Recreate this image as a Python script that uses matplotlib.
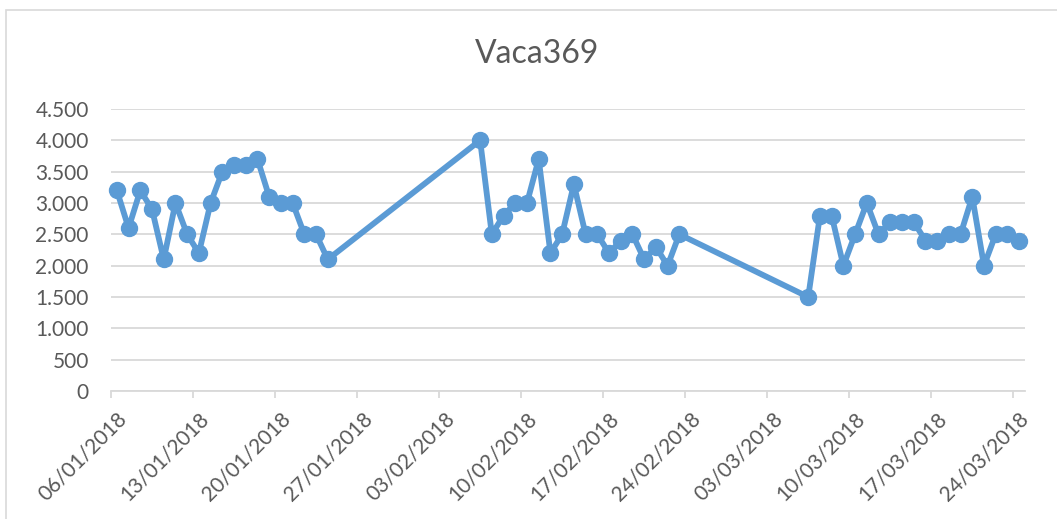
import datetime as dt
import matplotlib
matplotlib.use("Agg")
import matplotlib.pyplot as plt
import matplotlib.dates as mdates
import matplotlib.transforms as mtransforms
from matplotlib.ticker import FuncFormatter, MultipleLocator
from matplotlib.patches import Rectangle

# daily readings, three runs of consecutive days
start1 = "2018-01-06"
vals1 = [3200, 2600, 3200, 2900, 2100, 3000, 2500, 2200, 3000, 3500,
         3600, 3600, 3700, 3100, 3000, 3000, 2500, 2500, 2100]
start2 = "2018-02-06"
vals2 = [4000, 2500, 2800, 3000, 3000, 3700, 2200, 2500, 3300, 2500,
         2500, 2200, 2400, 2500, 2100, 2300, 2000, 2500]
start3 = "2018-03-06"
vals3 = [1500, 2800, 2800, 2000, 2500, 3000, 2500, 2700, 2700, 2700,
         2400, 2400, 2500, 2500, 3100, 2000, 2500, 2500, 2400]

title = "Vaca369"
blue = "#5B9BD5"
grid = "#D9D9D9"
txt = "#595959"


def run(start, vals):
    d0 = dt.datetime.strptime(start, "%Y-%m-%d")
    # Excel date axis: points sit in the middle of each day
    return [d0 + dt.timedelta(days=i, hours=12) for i in range(len(vals))]


dates = run(start1, vals1) + run(start2, vals2) + run(start3, vals3)
values = vals1 + vals2 + vals3

plt.rcParams["font.family"] = ["Lato", "DejaVu Sans"]

fig = plt.figure(figsize=(10.57, 5.19), dpi=100)
# chart area border (runs off the right and bottom edges)
fig.patches.append(Rectangle((6 / 1057, -0.05), 1.1, 1 - 10 / 519 + 0.05,
                             transform=fig.transFigure, fill=False,
                             edgecolor=grid, lw=1.2))
ax = fig.add_axes([111 / 1057, 1 - 391 / 519, (1025 - 111) / 1057, (391 - 109) / 519])

ax.plot(dates, values, color=blue, lw=4.2, marker="o", ms=11.5,
        solid_joinstyle="round", zorder=3, clip_on=False)

ax.set_xlim(dt.datetime(2018, 1, 6), dt.datetime(2018, 3, 25))
ax.set_ylim(0, 4500)
ax.yaxis.set_major_locator(MultipleLocator(500))
ax.yaxis.set_major_formatter(FuncFormatter(lambda v, p: f"{int(v):,}".replace(",", ".")))
ax.set_xticks([dt.datetime(2018, 1, 6) + dt.timedelta(days=7 * k) for k in range(12)])
ax.xaxis.set_major_formatter(mdates.DateFormatter("%d/%m/%Y"))

ax.grid(axis="y", color=grid, lw=1.3)
ax.set_axisbelow(True)
for s in ["top", "right", "left"]:
    ax.spines[s].set_visible(False)
ax.spines["bottom"].set_color(grid)
ax.spines["bottom"].set_linewidth(1.3)
ax.tick_params(axis="y", length=0, pad=16, labelsize=15, labelcolor=txt)
ax.tick_params(axis="x", length=5, width=1.3, color=grid, pad=8,
               labelsize=15, labelcolor=txt)
shift = mtransforms.ScaledTranslation(5 / 100, 0, fig.dpi_scale_trans)
for lab in ax.get_xticklabels():
    lab.set_rotation(45)
    lab.set_ha("right")
    lab.set_va("top")
    lab.set_rotation_mode("anchor")
    lab.set_transform(lab.get_transform() + shift)

fig.text(537 / 1057, 1 - 54 / 519, title, ha="center", va="center",
         fontsize=23, color=txt)

fig.savefig("out.png", dpi=100)
